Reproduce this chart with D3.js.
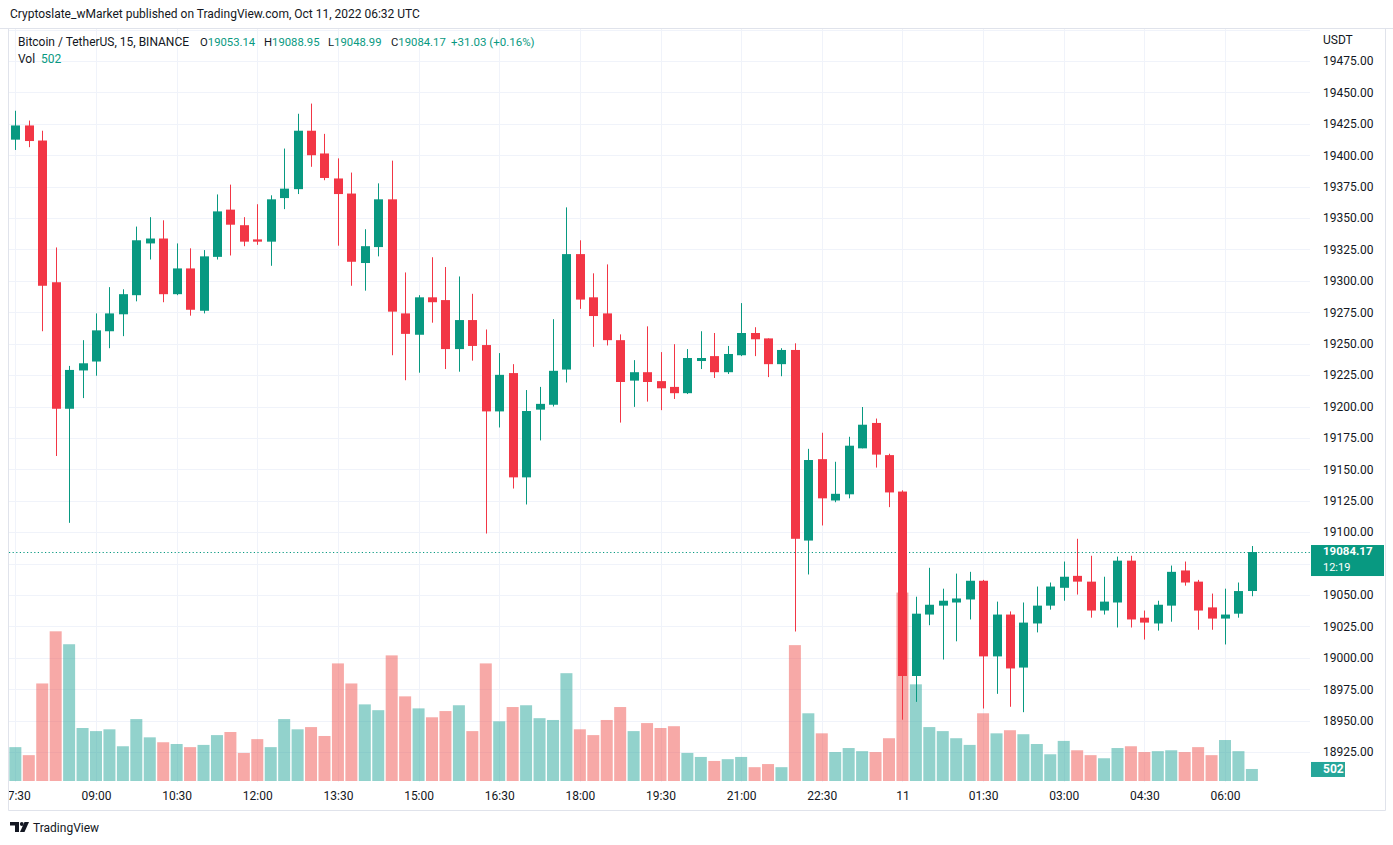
<!DOCTYPE html>
<html><head><meta charset="utf-8">
<script src="https://cdn.jsdelivr.net/npm/d3@7"></script>
<style>
html,body{margin:0;padding:0;background:#fff;}
svg{display:block;font-family:Roboto,"Noto Sans",sans-serif;}
</style></head><body>
<svg id="c" width="1393" height="845"></svg>
<script>
// ---- data (15-minute candles, BTC/USDT, 07:30 → 06:30) ----
const tickLabels = ["07:30","09:00","10:30","12:00","13:30","15:00","16:30","18:00","19:30","21:00","22:30","11","01:30","03:00","04:30","06:00"];
const tickIndex  = [0,6,12,18,24,30,36,42,48,54,60,66,72,78,84,90];
const opens = [19412.4,19423.7,19411.7,19298.9,19198.2,19228.7,19235.8,19259.9,19273.4,19288.6,19329.8,19333.7,19289.4,19309.9,19276.2,19319.1,19356.7,19344.3,19333.0,19331.2,19365.9,19373.0,19419.5,19401.4,19381.5,19369.5,19314.2,19326.9,19364.9,19274.1,19257.1,19286.9,19284.7,19245.7,19268.8,19248.9,19196.1,19226.6,19143.6,19197.5,19201.4,19229.4,19321.3,19286.9,19274.1,19252.8,19220.6,19227.3,19220.2,19215.6,19210.6,19236.2,19240.1,19227.3,19240.8,19258.5,19254.2,19233.7,19245.0,19093.3,19158.1,19125.2,19130.1,19166.7,19186.9,19161.3,19132.3,18985.5,19034.4,19041.5,19044.0,19046.4,19061.3,19001.1,19034.4,18992.2,19027.3,19041.5,19055.7,19065.2,19060.6,19037.6,19044.0,19077.3,19031.9,19027.3,19041.5,19069.5,19060.6,19040.1,19031.2,19035.1,19053.14];
const highs = [19435.4,19427.6,19419.5,19326.6,19232.3,19252.8,19274.1,19295.0,19293.3,19343.2,19350.7,19348.2,19329.8,19325.9,19324.5,19368.8,19376.6,19350.7,19361.0,19368.1,19405.3,19433.0,19441.1,19417.0,19397.5,19386.2,19341.1,19377.6,19395.7,19306.7,19288.6,19318.8,19311.0,19303.5,19289.7,19261.3,19242.5,19233.7,19213.1,19215.6,19269.5,19358.5,19332.3,19306.0,19313.1,19257.4,19236.9,19263.8,19243.3,19249.6,19245.7,19259.9,19258.5,19248.2,19282.3,19263.1,19254.2,19246.4,19250.3,19166.3,19179.1,19156.0,19175.9,19199.6,19190.4,19162.4,19133.3,19048.6,19071.6,19055.0,19067.0,19068.4,19062.0,19044.7,19036.9,19044.0,19056.7,19059.9,19076.6,19094.7,19081.2,19064.5,19080.5,19081.2,19037.6,19045.4,19073.4,19076.6,19062.0,19051.1,19055.0,19059.9,19088.95];
const lows = [19404.2,19406.4,19259.9,19160.6,19107.4,19206.7,19224.5,19246.4,19256.0,19283.7,19317.0,19283.0,19288.6,19272.3,19274.1,19317.0,19320.2,19327.6,19328.7,19312.0,19357.1,19369.1,19390.8,19380.1,19328.0,19296.1,19292.2,19319.5,19240.8,19220.9,19226.9,19266.7,19229.8,19227.7,19236.5,19098.9,19183.3,19134.7,19122.0,19173.0,19200.0,19219.1,19277.7,19247.5,19248.6,19187.2,19199.7,19203.9,19197.1,19206.0,19209.9,19229.8,19222.7,19225.9,19240.1,19240.1,19223.4,19224.1,19020.9,19066.3,19105.3,19123.8,19126.9,19166.7,19151.4,19119.9,18950.7,18964.9,19025.9,18998.6,19013.1,19030.5,18959.6,18971.3,18961.0,18956.7,19020.2,19038.3,19045.4,19050.3,19031.9,19034.4,19024.1,19024.1,19014.5,19021.6,19028.7,19057.4,19022.3,19022.3,19010.6,19031.9,19048.99];
const closes = [19423.7,19411.3,19296.1,19198.2,19229.1,19234.4,19260.6,19274.1,19289.4,19332.3,19333.7,19289.4,19309.9,19277.0,19319.5,19355.3,19344.7,19331.2,19331.2,19364.9,19373.4,19419.5,19400.0,19381.9,19369.1,19315.2,19327.6,19364.9,19275.5,19257.8,19286.9,19283.0,19245.7,19268.8,19248.2,19196.1,19225.2,19143.6,19196.4,19202.1,19228.4,19321.3,19285.1,19272.0,19252.8,19219.5,19227.3,19219.5,19214.5,19210.6,19238.6,19238.6,19227.3,19241.8,19258.5,19253.5,19233.7,19245.0,19094.7,19157.4,19126.9,19130.5,19168.8,19185.5,19161.7,19131.6,18985.5,19035.1,19042.2,19045.4,19047.2,19061.3,19001.1,19034.4,18991.5,19028.0,19041.5,19056.7,19064.5,19060.6,19037.6,19044.7,19077.3,19030.5,19028.0,19042.2,19068.4,19059.9,19037.6,19031.2,19034.4,19053.1,19084.17];
const volumes = [1414,1079,4073,6250,5710,2213,2083,2158,1451,2585,1823,1618,1544,1414,1507,1916,2046,1172,1748,1414,2585,2158,2251,1879,4910,4073,3199,2957,5245,3534,3032,2660,2920,3162,2083,4910,2492,3088,3162,2623,2548,4501,2158,1916,2548,3088,2083,2418,2213,2288,1172,1004,837,911,1004,577,707,577,5673,2827,1990,1209,1376,1246,1209,1786,7868,4036,2251,2083,1786,1507,2827,1990,2120,1953,1544,1116,1674,1283,1079,949,1376,1451,1209,1246,1283,1209,1414,1079,1711,1246,502];
const priceTicks = d3.range(18925, 19475.1, 25);
const lastPrice = 19084.17, lastVolume = 502, countdown = "12:19";
const changeText = "+31.03 (+0.16%)";

// ---- layout ----
const svg = d3.select("#c");
const plot = {left: 9, right: 1310, top: 29, bottom: 782};
const frameRight = 1385, frameBottom = 810;
const UP = "#089981", DOWN = "#f23645";
const VUP = "rgba(38,166,154,0.5)", VDOWN = "rgba(239,83,80,0.5)";
const TXT = "#131722", GRID = "#f0f3fa", BORDER = "#e0e3eb";

const x = d3.scaleLinear().domain([6, 90]).range([96, 1225]);
const y = d3.scaleLinear().domain([18925, 19475]).range([752, 61]);
const yv = d3.scaleLinear().domain([0, 10000]).range([781, 541.5]);
const data = opens.map((o, i) => ({i, o, h: highs[i], l: lows[i], c: closes[i], v: volumes[i]}));
const ly = y(lastPrice);

const defs = svg.append("defs");
defs.append("clipPath").attr("id", "pc")
  .append("rect").attr("x", plot.left).attr("y", plot.top)
  .attr("width", plot.right - plot.left).attr("height", plot.bottom - plot.top);
defs.append("clipPath").attr("id", "tc")
  .append("rect").attr("x", plot.left).attr("y", 0)
  .attr("width", plot.right - plot.left).attr("height", frameBottom - plot.bottom);

// header
svg.append("text").attr("x", 10).attr("y", 18).attr("font-size", 12).attr("fill", TXT)
  .text("Cryptoslate_wMarket published on TradingView.com, Oct 11, 2022 06:32 UTC");

// grid
const g = svg.append("g").attr("clip-path", "url(#pc)");
g.selectAll("line.hg").data(d3.range(18900, 19525, 25)).join("line")
  .attr("x1", plot.left).attr("x2", plot.right)
  .attr("y1", d => Math.round(y(d)) + 0.5).attr("y2", d => Math.round(y(d)) + 0.5)
  .attr("stroke", GRID).attr("stroke-width", 1);
g.selectAll("line.vg").data(tickIndex).join("line")
  .attr("y1", plot.top).attr("y2", plot.bottom)
  .attr("x1", d => Math.round(x(d)) + 0.5).attr("x2", d => Math.round(x(d)) + 0.5)
  .attr("stroke", GRID).attr("stroke-width", 1);

// frame
svg.append("line").attr("x1", 0).attr("x2", 1393).attr("y1", 28.5).attr("y2", 28.5).attr("stroke", BORDER);
svg.append("line").attr("x1", plot.left - 0.5).attr("x2", plot.left - 0.5).attr("y1", 28.5).attr("y2", frameBottom + 0.5).attr("stroke", BORDER);
svg.append("line").attr("x1", frameRight + 0.5).attr("x2", frameRight + 0.5).attr("y1", 28.5).attr("y2", frameBottom + 0.5).attr("stroke", BORDER);
svg.append("line").attr("x1", plot.left - 0.5).attr("x2", frameRight + 0.5).attr("y1", frameBottom + 0.5).attr("y2", frameBottom + 0.5).attr("stroke", BORDER);

// volume bars
g.selectAll("rect.vol").data(data).join("rect")
  .attr("x", d => x(d.i) - 6).attr("width", 12)
  .attr("y", d => yv(d.v)).attr("height", d => yv(0) - yv(d.v))
  .attr("fill", d => d.c >= d.o ? VUP : VDOWN);

// last price dotted line
g.append("line").attr("x1", plot.left).attr("x2", plot.right)
  .attr("y1", Math.round(ly) + 0.5).attr("y2", Math.round(ly) + 0.5)
  .attr("stroke", UP).attr("stroke-width", 1.2).attr("stroke-dasharray", "1.2,2.4");

// candles
const cg = g.selectAll("g.candle").data(data).join("g");
cg.append("line")
  .attr("x1", d => Math.round(x(d.i)) + 0.5).attr("x2", d => Math.round(x(d.i)) + 0.5)
  .attr("y1", d => y(d.h)).attr("y2", d => y(d.l))
  .attr("stroke", d => d.c >= d.o ? UP : DOWN).attr("stroke-width", 1);
cg.append("rect")
  .attr("x", d => Math.round(x(d.i)) - 4).attr("width", 9)
  .attr("y", d => y(Math.max(d.o, d.c)))
  .attr("height", d => Math.max(1, Math.abs(y(d.o) - y(d.c))))
  .attr("fill", d => d.c >= d.o ? UP : DOWN);

// legend
const n = opens.length - 1;
svg.append("text").attr("x", 18).attr("y", 46).attr("font-size", 12).attr("fill", TXT)
  .text("Bitcoin / TetherUS, 15, BINANCE");
[["O", opens[n], 200], ["H", highs[n], 264], ["L", lows[n], 328], ["C", closes[n], 391]].forEach(([k, v, px]) => {
  const t = svg.append("text").attr("x", px).attr("y", 46).attr("font-size", 11.3).attr("fill", TXT);
  t.append("tspan").text(k);
  t.append("tspan").attr("fill", UP).text(v.toFixed(2));
});
svg.append("text").attr("x", 451).attr("y", 46).attr("font-size", 11.5).attr("fill", UP).text(changeText);
svg.append("text").attr("x", 18).attr("y", 63).attr("font-size", 12).attr("fill", TXT).text("Vol");
svg.append("text").attr("x", 41).attr("y", 63).attr("font-size", 12).attr("fill", UP).text(lastVolume);

// price axis (labels hidden under the last-price badge are skipped, as in the reference)
const visibleTicks = priceTicks.filter(t => y(t) < ly - 12 || y(t) > ly + 28);
const pa = svg.append("g").attr("transform", `translate(${plot.right},0)`)
  .call(d3.axisRight(y).tickValues(visibleTicks).tickFormat(d3.format(".2f")).tickSize(0).tickPadding(13));
pa.select(".domain").remove();
pa.selectAll("text").attr("font-size", 12).attr("fill", TXT).attr("font-family", "Roboto");
svg.append("text").attr("x", 1323).attr("y", 44).attr("font-size", 12).attr("fill", TXT).text("USDT");

// last price label
svg.append("rect").attr("x", plot.right + 1).attr("y", ly - 7).attr("width", 73).attr("height", 31).attr("fill", UP);
svg.append("text").attr("x", 1323).attr("y", ly + 2.5).attr("font-size", 11.5).attr("font-weight", "bold").attr("fill", "#fff").text(lastPrice.toFixed(2));
svg.append("text").attr("x", 1323).attr("y", ly + 19).attr("font-size", 11).attr("fill", "#fff").text(countdown);

// volume label
const vy = yv(lastVolume);
svg.append("rect").attr("x", plot.right + 1).attr("y", vy - 7).attr("width", 34).attr("height", 15).attr("fill", "#26a69a");
svg.append("text").attr("x", 1323).attr("y", vy + 4.5).attr("font-size", 12).attr("font-weight", "bold").attr("fill", "#fff").text(lastVolume);

// time axis
const ta = svg.append("g").attr("transform", `translate(0,${plot.bottom})`).attr("clip-path", "url(#tc)")
  .call(d3.axisBottom(x).tickValues(tickIndex).tickFormat((d, k) => tickLabels[k]).tickSize(0).tickPadding(9));
ta.select(".domain").remove();
ta.selectAll("text").attr("font-size", 12).attr("fill", TXT).attr("font-family", "Roboto");

// TradingView logo
const lg = svg.append("g").attr("fill", TXT);
lg.append("path").attr("d", "M10,822 h9 v10 h-4 v-6.5 h-5 z");
lg.append("circle").attr("cx", 21.8).attr("cy", 824).attr("r", 1.9);
lg.append("path").attr("d", "M24.5,822 h4.5 l-4.5,10 h-4.5 z");
svg.append("text").attr("x", 33).attr("y", 832).attr("font-size", 12).attr("fill", TXT).text("TradingView");
</script>
</body></html>
